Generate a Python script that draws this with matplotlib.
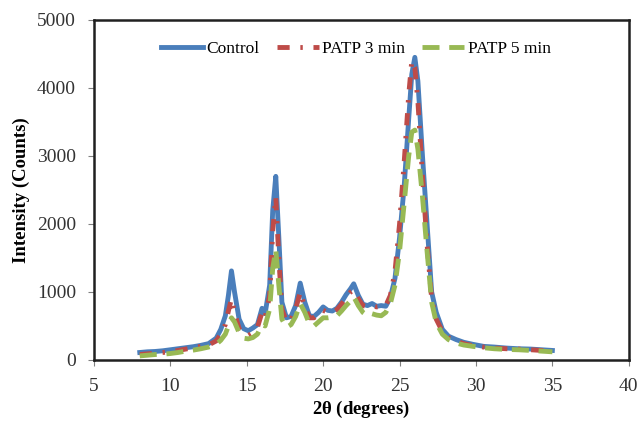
import matplotlib
matplotlib.use("Agg")
from matplotlib import pyplot as plt

# XRD patterns: 2-theta (degrees) against intensity (counts)
two_theta = [8.0, 8.5, 9.0, 9.5, 10.0, 10.5, 11.0, 11.5, 12.0, 12.5,
             13.0, 13.3, 13.6, 13.8, 14.0, 14.2, 14.5, 14.8, 15.1, 15.4,
             15.7, 16.0, 16.2, 16.5, 16.7, 16.9, 17.1, 17.3, 17.6, 17.9,
             18.2, 18.5, 18.8, 19.1, 19.4, 19.7, 20.0, 20.3, 20.6, 20.9,
             21.2, 21.5, 21.8, 22.0, 22.3, 22.6, 22.9, 23.2, 23.5, 23.8,
             24.1, 24.4, 24.7, 25.0, 25.3, 25.6, 25.8, 26.0, 26.2, 26.5,
             26.8, 27.1, 27.4, 27.8, 28.2, 28.7, 29.2, 29.8, 30.5, 31.2,
             32.0, 32.8, 33.6, 34.3, 35.0]

control = [110, 120, 125, 135, 150, 165, 180, 195, 215, 240,
           320, 450, 650, 950, 1310, 1000, 600, 460, 430, 470,
           520, 760, 680, 1100, 2200, 2700, 1800, 850, 620, 640,
           800, 1130, 850, 650, 640, 700, 780, 730, 720, 760,
           850, 960, 1050, 1120, 950, 820, 800, 830, 790, 800,
           790, 920, 1200, 1800, 2550, 3550, 4200, 4450, 4100, 3000,
           2000, 1000, 700, 450, 350, 300, 260, 230, 200, 190,
           175, 165, 160, 150, 140]

patp_3 = [80, 90, 100, 110, 120, 140, 160, 180, 200, 220,
          280, 380, 520, 720, 900, 700, 460, 380, 360, 400,
          480, 700, 620, 950, 1900, 2400, 1500, 750, 560, 600,
          750, 1000, 780, 620, 620, 680, 730, 700, 700, 740,
          820, 920, 1000, 1030, 900, 800, 780, 800, 780, 790,
          800, 950, 1300, 2000, 2900, 3900, 4400, 4300, 3800, 2700,
          1700, 900, 600, 420, 330, 280, 240, 210, 190, 175,
          165, 160, 150, 140, 130]

patp_5 = [60, 70, 80, 85, 95, 110, 130, 145, 165, 190,
          230, 290, 380, 500, 620, 560, 400, 320, 310, 330,
          380, 520, 500, 750, 1350, 1620, 1100, 600, 480, 520,
          640, 830, 700, 530, 500, 560, 620, 620, 630, 650,
          720, 800, 870, 930, 800, 700, 650, 680, 660, 650,
          700, 830, 1100, 1600, 2300, 3000, 3350, 3380, 3100, 2400,
          1600, 850, 550, 380, 300, 250, 220, 200, 180, 165,
          155, 150, 140, 130, 120]

x_ticks = [5, 10, 15, 20, 25, 30, 35, 40]
y_ticks = [0, 1000, 2000, 3000, 4000, 5000]

plt.rcParams['font.family'] = ['Liberation Serif', 'DejaVu Serif']

fig = plt.figure(figsize=(6.39, 4.24), dpi=100)
ax = fig.add_axes([0.147, 0.151, 0.837, 0.802])

ax.plot(two_theta, control, color='#4a7ebb', linewidth=3.5, label='Control')
ax.plot(two_theta, patp_3, color='#be4b48', linewidth=3.5,
        linestyle=(0, (2.5, 2.2, 0.5, 2.2)), label='PATP 3 min')
ax.plot(two_theta, patp_5, color='#98b954', linewidth=3.5,
        linestyle=(0, (3.5, 2)), label='PATP 5 min')

ax.set_xlim(5, 40)
ax.set_ylim(0, 5000)
ax.set_xticks(x_ticks)
ax.set_yticks(y_ticks)
ax.tick_params(axis='both', labelsize=14, direction='out', length=4,
               color='#808080', labelcolor='#333333')
ax.tick_params(axis='x', pad=9)
ax.tick_params(axis='y', pad=9)
for spine in ax.spines.values():
    spine.set_linewidth(1.8)
    spine.set_color('#202020')

ax.set_xlabel(r'2$\mathregular{\theta}$ (degrees)', fontsize=13.5, fontweight='bold',
              labelpad=3)
ax.set_ylabel('Intensity (Counts)', fontsize=13.5, fontweight='bold', labelpad=5)

ax.legend(loc='upper center', bbox_to_anchor=(0.49, 0.985), ncol=3, frameon=False,
          fontsize=12.5, handlelength=2.4, columnspacing=1.0, handletextpad=0.2)

fig.savefig('out.png', dpi=100)
